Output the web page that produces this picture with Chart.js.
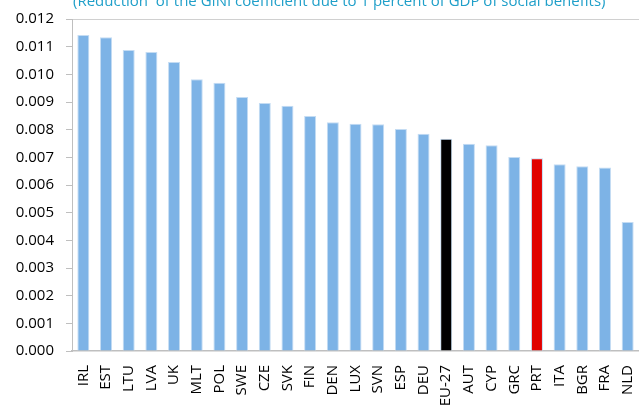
<!DOCTYPE html>
<html>
<head>
<meta charset="utf-8">
<script src="https://cdn.jsdelivr.net/npm/chart.js@4.4.1/dist/chart.umd.min.js"></script>
<style>
  html, body { margin: 0; padding: 0; background: #fff; overflow: hidden; }
  #wrap { width: 639px; height: 409px; }
</style>
</head>
<body>
<div id="wrap"><canvas id="giniChart"></canvas></div>
<script>
// Reduction of the GINI coefficient per 1% of GDP of social benefits
const countries = ['IRL', 'EST', 'LTU', 'LVA', 'UK', 'MLT', 'POL', 'SWE', 'CZE', 'SVK', 'FIN', 'DEN', 'LUX',
  'SVN', 'ESP', 'DEU', 'EU-27', 'AUT', 'CYP', 'GRC', 'PRT', 'ITA', 'BGR', 'FRA', 'NLD'];
const giniReduction = [0.01142, 0.01134, 0.01088, 0.01081, 0.01045, 0.00982, 0.00970, 0.00918, 0.00896, 0.00886,
  0.00849, 0.00827, 0.00821, 0.00820, 0.00802, 0.00785, 0.00767, 0.00749, 0.00744, 0.00701, 0.00697, 0.00675,
  0.00668, 0.00663, 0.00466];
const yTicks = [0, 0.001, 0.002, 0.003, 0.004, 0.005, 0.006, 0.007, 0.008, 0.009, 0.010, 0.011, 0.012];
const subtitle = '(Reduction  of the GINI coefficient due to 1 percent of GDP of social benefits)';

const blue = '#7db3e6';
const barColors = countries.map(c => c === 'EU-27' ? '#000000' : (c === 'PRT' ? '#e00000' : blue));

// subtitle sits half cut off at the top edge
const subtitlePlugin = {
  id: 'subtitleText',
  afterDraw(chart) {
    const ctx = chart.ctx;
    ctx.save();
    ctx.font = '15px "Open Sans"';
    ctx.fillStyle = '#1f9fc9';
    ctx.textBaseline = 'alphabetic';
    ctx.fillText(subtitle, 73, 6);
    ctx.restore();
  }
};

const ctx = document.getElementById('giniChart').getContext('2d');
const chart = new Chart(ctx, {
  type: 'bar',
  data: {
    labels: countries,
    datasets: [{
      data: giniReduction,
      backgroundColor: barColors,
      borderColor: '#c4dcf3',
      borderWidth: 1,
      barPercentage: 1,
      categoryPercentage: 0.53
    }]
  },
  options: {
    responsive: true,
    maintainAspectRatio: false,
    animation: false,
    layout: { padding: { top: 19, right: 0, left: 0, bottom: 0 } },
    plugins: {
      legend: { display: false },
      tooltip: { enabled: false }
    },
    scales: {
      x: {
        grid: { display: false },
        border: { display: true, color: '#bfbfbf', width: 1.5 },
        ticks: {
          color: '#000',
          font: { family: 'Open Sans', size: 15 },
          minRotation: 90,
          maxRotation: 90,
          padding: 6,
          autoSkip: false
        },
        afterFit: scale => {
          scale.height = 58;
          scale.paddingLeft = 0;
          scale.paddingRight = 0;
        }
      },
      xTop: {
        position: 'top',
        grid: { display: false },
        border: { display: true, color: '#d0d0d0' },
        ticks: { display: false },
        afterFit: scale => {
          scale.height = 0;
          scale.paddingLeft = 0;
          scale.paddingRight = 0;
        }
      },
      y: {
        min: 0,
        max: 0.012,
        afterBuildTicks: scale => { scale.ticks = yTicks.map(v => ({ value: v })); },
        grid: { drawOnChartArea: false, drawTicks: true, tickLength: 6, color: '#bfbfbf' },
        border: { display: true, color: '#bfbfbf' },
        ticks: {
          color: '#000',
          font: { family: 'Open Sans', size: 15 },
          padding: 12,
          callback: v => Number(v).toFixed(3)
        },
        afterFit: scale => {
          scale.width = 72;
          scale.paddingTop = 0;
          scale.paddingBottom = 0;
        }
      }
    }
  },
  plugins: [subtitlePlugin]
});
</script>
</body>
</html>
